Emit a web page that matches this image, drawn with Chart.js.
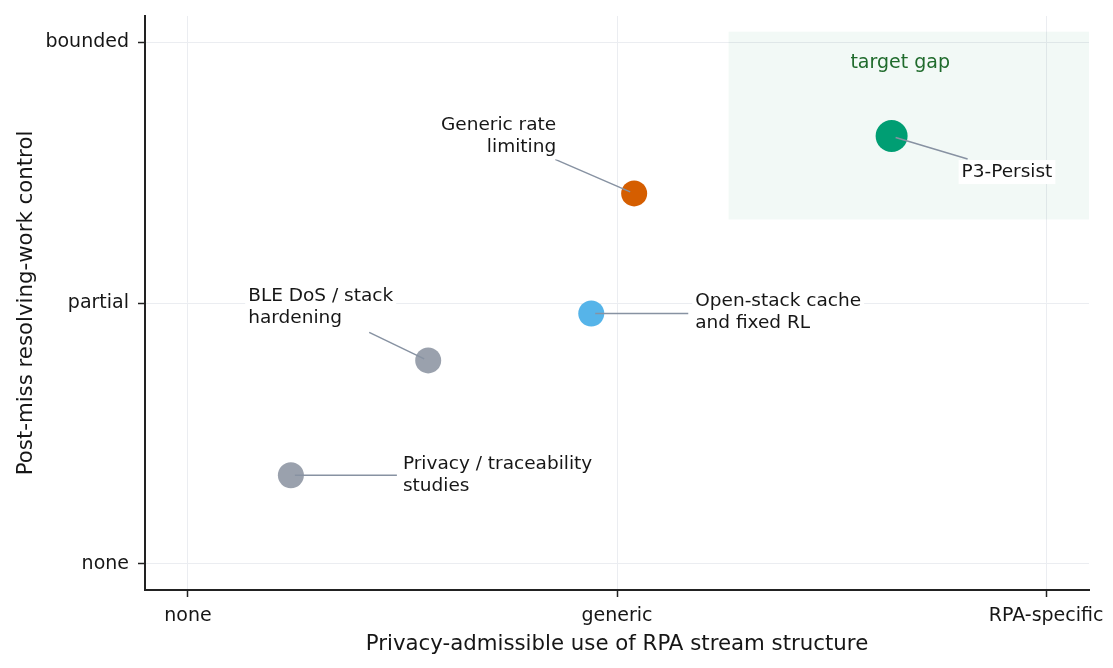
<!DOCTYPE html>
<html>
<head>
<meta charset="utf-8">
<script src="https://cdn.jsdelivr.net/npm/chart.js@4.4.1/dist/chart.umd.min.js"></script>
<style>
  html, body { margin: 0; padding: 0; background: #fff; }
  #wrap { width: 1113px; height: 668px; }
</style>
</head>
<body>
<div id="wrap"><canvas id="chart"></canvas></div>
<script>
// axis categories
const xTickLabels = ["none", "generic", "RPA-specific"];
const yTickLabels = ["none", "partial", "bounded"];

// approaches
const pointNames = [
    ["P3-Persist"],
    ["Generic rate", "limiting"],
    ["Open-stack cache", "and fixed RL"],
    ["BLE DoS / stack", "hardening"],
    ["Privacy / traceability", "studies"]
];
const xValues = [1.64, 1.04, 0.94, 0.56, 0.24];
const yValues = [1.64, 1.42, 0.96, 0.78, 0.34];

// target gap region
const gapX = [1.26, 2.1];
const gapY = [1.32, 2.04];
const gapLabelX = 1.66;

// styles
const pointColors = ["#009E73", "#D55E00", "#56B4E9", "#9aa1ad", "#9aa1ad"];
const pointRadii = [16, 13, 13, 13, 13];
// label placement (pixels, relative to the point)
const labelPlace = [
    { dx: 70, dy: 36, align: "left", lx: 76, ly: 23 },
    { dx: -78, dy: -68, align: "right", lx: -79, ly: -34 },
    { dx: 104, dy: -12, align: "left", lx: 97, ly: 0 },
    { dx: -180, dy: -64, align: "left", lx: -59, ly: -28 },
    { dx: 112, dy: -11, align: "left", lx: 106, ly: 0 }
];

const FONT = "'DejaVu Sans', sans-serif";
const TEXT = "#161616";

// 目標區塊（畫在點的下面）
const gapPlugin = {
    id: "gapBox",
    beforeDatasetsDraw(chart) {
        const { ctx, scales: { x, y } } = chart;
        const x0 = x.getPixelForValue(gapX[0]), x1 = x.getPixelForValue(gapX[1]);
        const y0 = y.getPixelForValue(gapY[1]), y1 = y.getPixelForValue(gapY[0]);
        ctx.save();
        ctx.fillStyle = "rgba(0,140,70,0.05)";
        ctx.fillRect(x0, y0, x1 - x0, y1 - y0);
        ctx.fillStyle = "#1f6b2c";
        ctx.font = "19px " + FONT;
        ctx.textAlign = "center";
        ctx.textBaseline = "middle";
        ctx.fillText("target gap", x.getPixelForValue(gapLabelX), y0 + 31);
        ctx.restore();
    }
};

// 標註文字與連線
const labelPlugin = {
    id: "pointLabels",
    afterDatasetsDraw(chart) {
        const { ctx } = chart;
        const meta = chart.getDatasetMeta(0);
        ctx.save();
        ctx.font = "18.5px " + FONT;
        ctx.textBaseline = "middle";
        meta.data.forEach((pt, i) => {
            const p = labelPlace[i];
            // line
            ctx.strokeStyle = "#8792a2";
            ctx.lineWidth = 1.5;
            ctx.beginPath();
            ctx.moveTo(pt.x + (p.lx > 0 ? 4 : -4), pt.y + (p.ly === 0 ? 0 : (p.ly > 0 ? 1.5 : -1.5)));
            ctx.lineTo(pt.x + p.lx, pt.y + p.ly);
            ctx.stroke();
            // text with white box
            const lines = pointNames[i];
            const lh = 22;
            const w = Math.max(...lines.map(t => ctx.measureText(t).width));
            const tx = pt.x + p.dx;
            const ty = pt.y + p.dy;
            const bx = p.align === "right" ? tx - w : tx;
            ctx.fillStyle = "#fff";
            ctx.fillRect(bx - 3, ty - 12, w + 6, lh * (lines.length - 1) + 24);
            ctx.fillStyle = TEXT;
            ctx.textAlign = p.align;
            lines.forEach((t, k) => ctx.fillText(t, tx, ty + k * lh));
        });
        ctx.restore();
    }
};

new Chart(document.getElementById("chart"), {
    type: "scatter",
    data: {
        datasets: [{
            data: xValues.map((v, i) => ({ x: v, y: yValues[i] })),
            backgroundColor: pointColors,
            borderColor: pointColors,
            borderWidth: 0,
            pointRadius: pointRadii,
            pointHoverRadius: pointRadii
        }]
    },
    options: {
        responsive: true,
        maintainAspectRatio: false,
        animation: false,
        layout: { padding: { top: 14, right: 24, left: 0, bottom: 0 } },
        plugins: {
            legend: { display: false },
            tooltip: { enabled: false }
        },
        scales: {
            x: {
                type: "linear",
                min: -0.1,
                max: 2.1,
                afterBuildTicks: (s) => { s.ticks = xTickLabels.map((_, i) => ({ value: i })); },
                afterFit: (s) => { s.height = 78; s.paddingLeft = 0; s.paddingRight = 0; },
                ticks: {
                    callback: (v) => xTickLabels[v],
                    color: TEXT,
                    font: { family: FONT, size: 19 },
                    padding: 8,
                    maxRotation: 0
                },
                grid: { color: "#ebedf1", tickColor: "#222", tickLength: 7, tickWidth: 1.5 },
                border: { display: true, color: "#222", width: 2 },
                title: {
                    display: true,
                    text: "Privacy-admissible use of RPA stream structure",
                    color: TEXT,
                    font: { family: FONT, size: 21.3 },
                    padding: { top: 0, bottom: 11 }
                }
            },
            y: {
                type: "linear",
                min: -0.1,
                max: 2.1,
                afterBuildTicks: (s) => { s.ticks = yTickLabels.map((_, i) => ({ value: i })); },
                afterFit: (s) => { s.width = 145; s.paddingTop = 0; s.paddingBottom = 0; },
                ticks: {
                    callback: (v) => yTickLabels[v],
                    color: TEXT,
                    font: { family: FONT, size: 19 },
                    padding: 9
                },
                grid: { color: "#ebedf1", tickColor: "#222", tickLength: 7, tickWidth: 1.5 },
                border: { display: true, color: "#222", width: 2 },
                title: {
                    display: true,
                    text: "Post-miss resolving-work control",
                    color: TEXT,
                    font: { family: FONT, size: 21.3 },
                    padding: { top: 14, bottom: 0 }
                }
            }
        }
    },
    plugins: [gapPlugin, labelPlugin]
});
</script>
</body>
</html>
